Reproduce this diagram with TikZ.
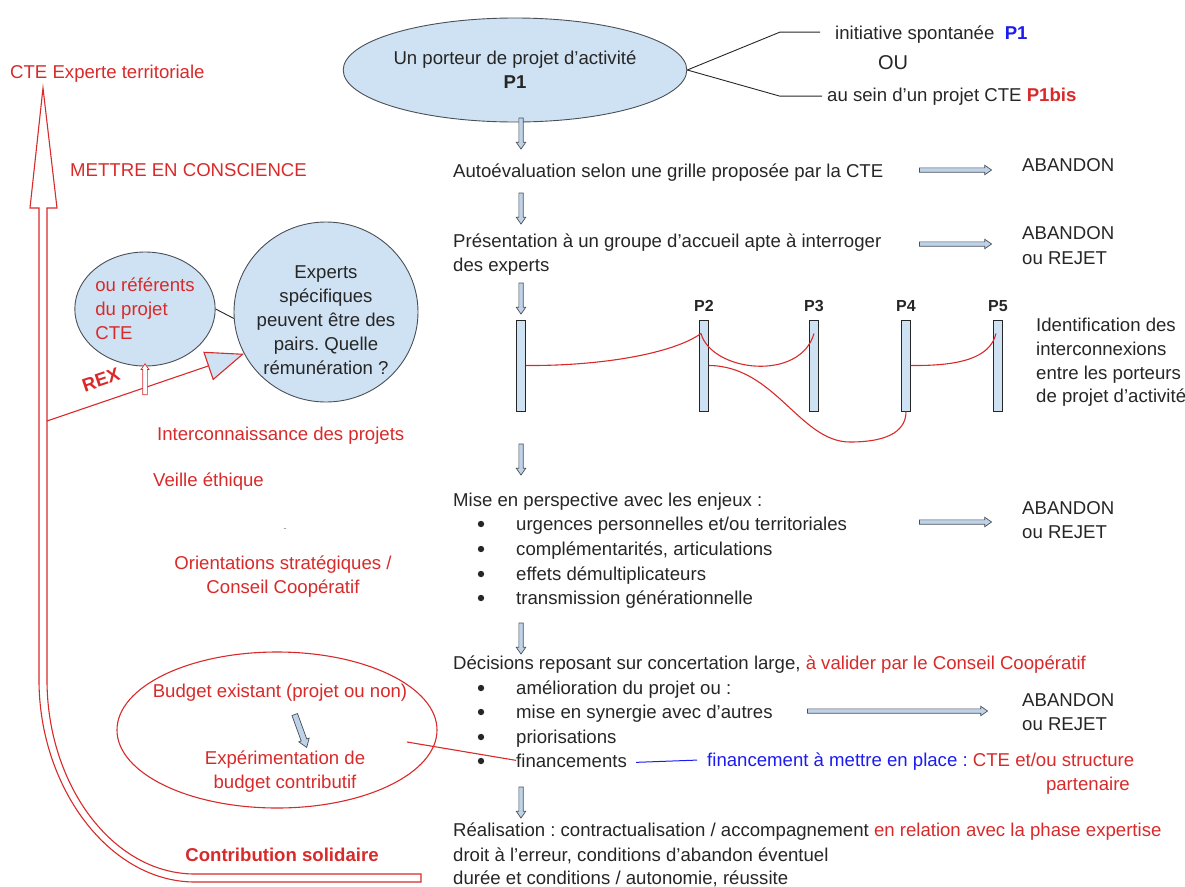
\documentclass[tikz,border=0pt]{standalone}
\usepackage{fontspec}
\setmainfont{Liberation Sans}
\frenchspacing
\usetikzlibrary{shapes.geometric,shapes.arrows,arrows.meta,calc}
\definecolor{cred}{HTML}{D82A2A}
\definecolor{cblue}{HTML}{1C1CF0}
\definecolor{ink}{HTML}{262626}
\definecolor{lblue}{HTML}{CFE2F3}
\definecolor{edge}{HTML}{4A4F57}
\definecolor{arrowfill}{HTML}{BFD3E8}
\newcommand\bodyfont{\fontsize{18.6}{24}\selectfont}
\newcommand\labfont{\fontsize{16}{20}\selectfont\bfseries}

\begin{document}
\begin{tikzpicture}[x=1pt,y=-1pt,
  txt/.style={anchor=base west, inner sep=0pt, font=\bodyfont, text=ink},
  rtxt/.style={txt, text=cred},
  ctxt/.style={anchor=center, align=center, inner sep=0pt, font=\bodyfont, text=ink},
  bubble/.style={ellipse, draw=edge, fill=lblue, line width=0.9pt, inner sep=0pt},
  bar/.style={rectangle, draw=ink, fill=lblue, line width=0.9pt, minimum width=9pt, minimum height=91pt, inner sep=0pt},
  plab/.style={anchor=base, inner sep=0pt, font=\labfont, text=ink},
  flow/.style={single arrow, draw=edge, fill=arrowfill, line width=0.7pt, inner sep=1.8pt,
    single arrow head extend=2.6pt, single arrow tip angle=70, single arrow head indent=0pt, minimum height=#1},
  link/.style={draw=cred, line width=1.1pt},
  thin/.style={draw=ink, line width=0.9pt},
  dot/.style={circle, fill=ink, inner sep=0pt, minimum size=6.4pt}
]
\useasboundingbox (0,0) rectangle (1185,886);

% ---------- left: big hollow arrow ----------
\draw[cred, line width=1.1pt, fill=white]
  (43,88) -- (57,208) -- (47,208) -- (47,680)
  .. controls (47,784) and (112,874) .. (195,874) -- (421,874) -- (421,882) -- (195,882)
  .. controls (109,882) and (39,787) .. (39,680) -- (39,208) -- (30,208) -- cycle;

\node[rtxt] (cte) at (10,78) {CTE Experte territoriale};
\node[rtxt] (conscience) at (70,176) {METTRE EN CONSCIENCE};

% ---------- experts ----------
\node[bubble, minimum width=126pt, minimum height=114pt, align=left, font=\bodyfont, text=cred]
  (ref) at (145,309) {ou référents\\du projet\\CTE};
\node[bubble, minimum width=184pt, minimum height=180pt] (expert) at (326,312) {};
\node[ctxt] (experttxt) at (326,320) {Experts\\spécifiques\\peuvent être des\\pairs. Quelle\\rémunération ?};
\draw[thin] (ref.east) -- (expert.184);

\coordinate (rexfoot) at (47,421);
\draw[cred, line width=1.1pt, -{Triangle[length=38pt,width=30pt,fill=lblue]}] (rexfoot) -- (expert.207);
\node[font=\bodyfont\bfseries, text=cred, rotate=18.7, inner sep=0pt] (rex) at (101,380) {REX};
\node[flow=31pt, draw=cred, fill=white, inner sep=2pt, single arrow head extend=1.6pt, rotate=90] (uparrow) at (145,381) {};

\node[rtxt] (inter) at (157,440) {Interconnaissance des projets};
\node[rtxt] (veille) at (153,486) {Veille éthique};
\node[anchor=center, inner sep=0pt, font=\fontsize{9}{10}\selectfont, text=gray] (dash) at (285,530) {-};
\node[ctxt, text=cred] (orient) at (283,577) {Orientations stratégiques /\\Conseil Coopératif};

% ---------- budget ----------
\node[ellipse, draw=cred, line width=1.1pt, minimum width=320pt, minimum height=156pt] (budget) at (277,730) {};
\node[ctxt, text=cred] (budexist) at (280,693) {Budget existant (projet ou non)};
\node[ctxt, text=cred] (budexp) at (285,772) {Expérimentation de\\budget contributif};
\node[flow=35pt, inner sep=2.6pt, rotate=-70] (budarrow) at (300,729) {};
\node[ctxt, font=\bodyfont\bfseries, text=cred] (contrib) at (282,855) {Contribution solidaire};

% ---------- porteur ----------
\node[bubble, minimum width=298pt, minimum height=104pt, align=center, font=\bodyfont, text=ink]
  (p1) at (515,70) {Un porteur de projet d'activité\\\textbf{P1}};
\node[txt] (init) at (835,39) {initiative spontanée \ \textcolor{cblue}{\textbf{P1}}};
\node[anchor=center, inner sep=0pt, font=\fontsize{20}{24}\selectfont, text=ink] (ou) at (893,63) {OU};
\node[txt] (sein) at (827,101) {au sein d'un projet CTE \textcolor{cred}{\textbf{P1bis}}};
\draw[thin] (p1.east) -- ($(init.west)+(-55,-2)$) -- ($(init.west)+(-15,-2)$);
\draw[thin] (p1.east) -- ($(sein.west)+(-47,0)$) -- ($(sein.west)+(-5,0)$);

% ---------- main column ----------
\node[flow=31pt, rotate=-90] (d1) at (521,132) {};
\node[txt] (auto) at (453,177) {Autoévaluation selon une grille proposée par la CTE};
\node[flow=72pt] (r1) at (954,170) {};
\node[txt] (abd1) at (1022,171) {ABANDON};

\node[flow=31pt, rotate=-90] (d2) at (521,207) {};
\node[txt] (pres) at (453,247) {Présentation à un groupe d'accueil apte à interroger};
\node[txt] (pres2) at (453,271) {des experts};
\node[flow=72pt] (r2) at (954,244) {};
\node[txt] (abd2) at (1022,239) {ABANDON};
\node[txt] (rej2) at (1022,264) {ou REJET};

\node[flow=31pt, rotate=-90] (d3) at (521,297) {};

% interconnection bars
\node[bar] (b1) at (521,365.5) {};
\node[bar] (b2) at (704,365.5) {};
\node[bar] (b3) at (814,365.5) {};
\node[bar] (b4) at (906,365.5) {};
\node[bar] (b5) at (998,365.5) {};
\node[plab] (l2) at (704,311) {P2};
\node[plab] (l3) at (814,311) {P3};
\node[plab] (l4) at (906,311) {P4};
\node[plab] (l5) at (998,311) {P5};
\coordinate (c2) at ($(b2.north)+(-3,14)$);
\coordinate (c3) at ($(b3.north)+(0,14)$);
\coordinate (c5) at ($(b5.north)+(-2,14)$);
\draw[link] (b1.east) .. controls (600,366) and (672,354) .. (c2);
\draw[link] (c2) .. controls (712,372) and (800,382) .. (c3);
\draw[link] (b2.east) .. controls (775,366) and (800,442) .. (850,442) .. controls (893,442) and (906,428) .. (b4.south);
\draw[link] (b4.east) .. controls (960,366) and (990,358) .. (c5);
\node[txt] (id1) at (1036,331) {Identification des};
\node[txt] (id2) at (1036,355) {interconnexions};
\node[txt] (id3) at (1036,379) {entre les porteurs};
\node[txt] (id4) at (1036,402) {de projet d'activité};

\node[flow=31pt, rotate=-90] (d4) at (521,458) {};
\node[txt] (mise) at (453,506) {Mise en perspective avec les enjeux :};
\node[dot] (u1) at (481,524) {};
\node[dot] (u2) at (481,549) {};
\node[dot] (u3) at (481,574) {};
\node[dot] (u4) at (481,598) {};
\node[txt] (m1) at (516,530) {urgences personnelles et/ou territoriales};
\node[txt] (m2) at (516,555) {complémentarités, articulations};
\node[txt] (m3) at (516,580) {effets démultiplicateurs};
\node[txt] (m4) at (516,604) {transmission générationnelle};
\node[flow=72pt] (r3) at (954,522) {};
\node[txt] (abd3) at (1022,514) {ABANDON};
\node[txt] (rej3) at (1022,538) {ou REJET};

\node[flow=31pt, rotate=-90] (d5) at (521,637) {};
\node[txt] (decis) at (453,669) {Décisions reposant sur concertation large, \textcolor{cred}{à valider par le Conseil Coopératif}};
\node[dot] (v1) at (481,688) {};
\node[dot] (v2) at (481,712) {};
\node[dot] (v3) at (481,737) {};
\node[dot] (v4) at (481,761) {};
\node[txt] (k1) at (516,694) {amélioration du projet ou :};
\node[txt] (k2) at (516,718) {mise en synergie avec d'autres};
\node[txt] (k3) at (516,743) {priorisations};
\node[txt] (fin) at (516,767) {financements};
\node[flow=180pt] (r4) at (896,711) {};
\node[txt] (abd4) at (1022,706) {ABANDON};
\node[txt] (rej4) at (1022,730) {ou REJET};

\node[txt, text=cblue] (fin2) at (707,766) {financement à mettre en place : \textcolor{cred}{CTE et/ou structure}};
\node[anchor=base east, inner sep=0pt, font=\bodyfont, text=cred] (part) at (1130,790) {partenaire};
\draw[cblue, line width=1pt] ($(fin.east)+(9,2)$) -- ($(fin2.west)+(-10,-1)$);
\draw[link] ($(budget.center)+(130,12)$) -- (fin.west);

\node[flow=31pt, rotate=-90] (d6) at (521,801) {};
\node[txt] (real) at (453,836) {Réalisation : contractualisation / accompagnement \textcolor{cred}{en relation avec la phase expertise}};
\node[txt] (droit) at (453,861) {droit à l'erreur, conditions d'abandon éventuel};
\node[txt] (duree) at (453,884) {durée et conditions / autonomie, réussite};
\end{tikzpicture}
\end{document}
